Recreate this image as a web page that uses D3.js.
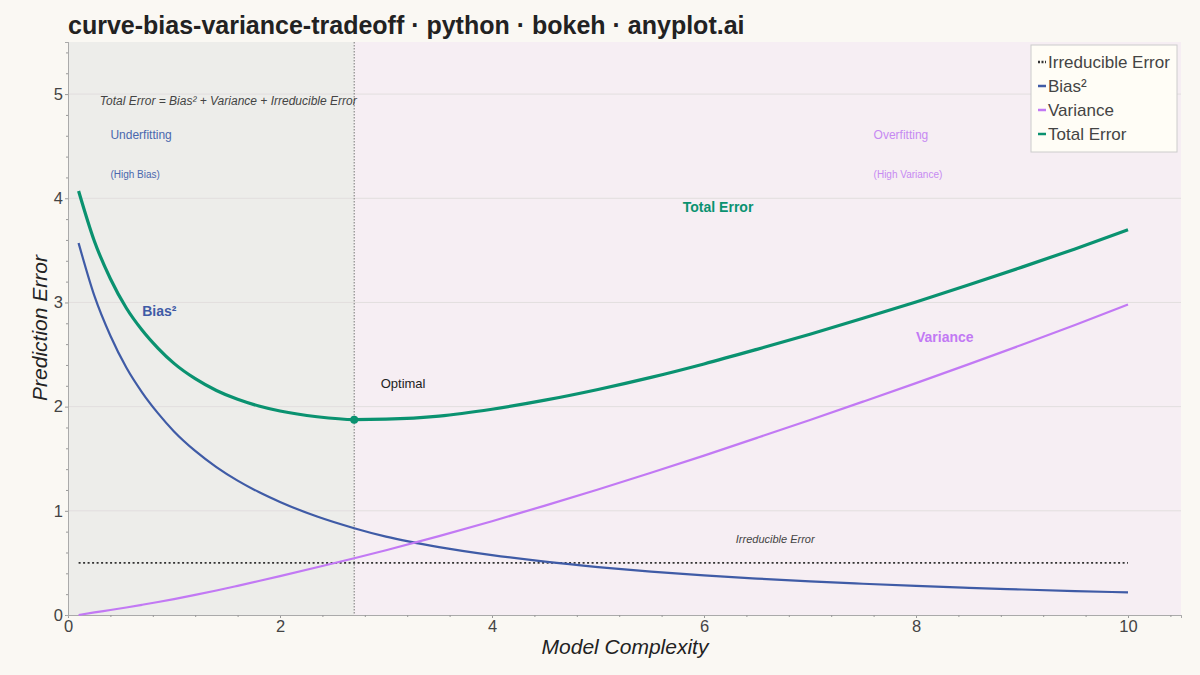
<!DOCTYPE html>
<html>
<head>
<meta charset="utf-8">
<script src="https://cdn.jsdelivr.net/npm/d3@7"></script>
<style>
  body { margin: 0; background: #FAF8F3; }
  svg { display: block; font-family: "Liberation Sans", Arial, sans-serif; }
</style>
</head>
<body>
<script>
// values
var complexity = [0.1, 0.25, 0.4, 0.55, 0.7, 0.85, 1.0, 1.2, 1.4, 1.6, 1.8, 2.0, 2.35, 2.7, 3.0, 3.5,
                  4.0, 4.5, 5.0, 5.5, 6.0, 6.5, 7.0, 7.5, 8.0, 8.5, 9.0, 9.5, 10];
var bias2 = [3.57, 3.06, 2.68, 2.375, 2.135, 1.935, 1.762, 1.575, 1.42, 1.29, 1.18, 1.085, 0.945, 0.833, 0.752, 0.652,
             0.575, 0.512, 0.46, 0.416, 0.38, 0.35, 0.323, 0.3, 0.279, 0.261, 0.245, 0.23, 0.217];
var variance = [0.0, 0.025, 0.048, 0.072, 0.098, 0.125, 0.153, 0.193, 0.235, 0.28, 0.326, 0.373, 0.458, 0.545, 0.622, 0.757,
                0.9, 1.05, 1.205, 1.365, 1.53, 1.7, 1.872, 2.048, 2.226, 2.408, 2.594, 2.784, 2.98];
var totalError = [4.07, 3.585, 3.228, 2.947, 2.733, 2.56, 2.415, 2.268, 2.155, 2.07, 2.006, 1.958, 1.903, 1.876, 1.88, 1.909,
                  1.975, 2.062, 2.165, 2.281, 2.41, 2.55, 2.695, 2.848, 3.005, 3.169, 3.339, 3.514, 3.697];
var irreducible = 0.5;
var optimalX = 2.7, optimalY = 1.875;
var xTicks = [0, 2, 4, 6, 8, 10];
var yTicks = [0, 1, 2, 3, 4, 5];

var colBias = "#3F5BA6", colVar = "#C279F4", colTotal = "#0A9270";

var margin = {top: 42, right: 19, bottom: 60, left: 68},
    width = 1200 - margin.left - margin.right,
    height = 675 - margin.top - margin.bottom;

var svg = d3.select("body").append("svg")
    .attr("width", 1200)
    .attr("height", 675);

svg.append("text")
    .attr("x", 68).attr("y", 34)
    .style("font-size", "25px").style("font-weight", "bold").style("fill", "#222")
    .text("curve-bias-variance-tradeoff · python · bokeh · anyplot.ai");

var g = svg.append("g")
    .attr("transform", "translate(" + margin.left + "," + margin.top + ")");

var x = d3.scaleLinear().domain([0, 10.5]).range([0, width]);
var y = d3.scaleLinear().domain([0, 5.5]).range([height, 0]);

// regions
g.append("rect").attr("x", 0).attr("y", 0)
    .attr("width", x(optimalX)).attr("height", height).style("fill", "#EDEDEA");
g.append("rect").attr("x", x(optimalX)).attr("y", 0)
    .attr("width", width - x(optimalX)).attr("height", height).style("fill", "#F6EEF3");

// grid
g.selectAll(".grid").data(yTicks.slice(1)).enter().append("line")
    .attr("x1", 0).attr("x2", width)
    .attr("y1", function(d) { return y(d); }).attr("y2", function(d) { return y(d); })
    .style("stroke", "#E2DEDE").style("stroke-width", 1);

// axes
var xAxis = g.append("g").attr("transform", "translate(0," + height + ")")
    .call(d3.axisBottom(x).tickValues(xTicks).tickSize(3).tickPadding(2).tickFormat(d3.format("d")));
var xMinor = g.append("g").attr("transform", "translate(0," + height + ")")
    .call(d3.axisBottom(x).tickValues(d3.range(0, 10.5, 0.4).filter(function(v) { return Math.abs(v / 2 - Math.round(v / 2)) > 0.01; })).tickSize(2).tickFormat(""));
var yAxis = g.append("g")
    .call(d3.axisLeft(y).tickValues(yTicks).tickSize(3).tickPadding(2).tickFormat(d3.format("d")));
var yMinor = g.append("g")
    .call(d3.axisLeft(y).tickValues(d3.range(0.2, 5.5, 0.2).filter(function(v) { return Math.abs(v - Math.round(v)) > 0.01; })).tickSize(2).tickFormat(""));
[xAxis, xMinor, yAxis, yMinor].forEach(function(a) {
  a.selectAll("path").style("stroke", "#AAA");
  a.selectAll("line").style("stroke", "#999");
  a.selectAll("text").style("font-size", "16.5px").style("fill", "#444")
      .style("font-family", "'Liberation Sans', Arial, sans-serif");
});

// optimal line
g.append("line")
    .attr("x1", x(optimalX)).attr("x2", x(optimalX)).attr("y1", 0).attr("y2", height)
    .style("stroke", "#777").style("stroke-width", 1).style("stroke-dasharray", "1.5,1.5");

// irreducible error
g.append("line")
    .attr("x1", x(complexity[0])).attr("x2", x(complexity[complexity.length - 1]))
    .attr("y1", y(irreducible)).attr("y2", y(irreducible))
    .style("stroke", "#333").style("stroke-width", 1.8).style("stroke-dasharray", "2,2.5");

function curve(vals) {
  return d3.line()
    .x(function(d, i) { return x(complexity[i]); })
    .y(function(d) { return y(d); })
    .curve(d3.curveMonotoneX)(vals);
}

g.append("path").attr("d", curve(bias2))
    .style("fill", "none").style("stroke", colBias).style("stroke-width", 2.2);
g.append("path").attr("d", curve(variance))
    .style("fill", "none").style("stroke", colVar).style("stroke-width", 2.2);
g.append("path").attr("d", curve(totalError))
    .style("fill", "none").style("stroke", colTotal).style("stroke-width", 3.2);

g.append("circle").attr("cx", x(optimalX)).attr("cy", y(optimalY)).attr("r", 4)
    .style("fill", colTotal);

// annotations
function note(xv, yv, txt, size, color, weight, style) {
  g.append("text").attr("x", x(xv)).attr("y", y(yv))
    .style("font-size", size + "px").style("fill", color)
    .style("font-weight", weight || "normal").style("font-style", style || "normal")
    .text(txt);
}
note(0.3, 4.9, "Total Error = Bias² + Variance + Irreducible Error", 12, "#444", null, "italic");
note(0.4, 4.57, "Underfitting", 12, "#4A68AE");
note(0.4, 4.19, "(High Bias)", 10, "#4A68AE");
note(7.6, 4.57, "Overfitting", 12, "#C68AF2");
note(7.6, 4.19, "(High Variance)", 10, "#C68AF2");
note(5.8, 3.87, "Total Error", 14, colTotal, "bold");
note(0.7, 2.87, "Bias²", 14, colBias, "bold");
note(8.0, 2.62, "Variance", 14, colVar, "bold");
note(2.95, 2.175, "Optimal", 13, "#222");
note(6.3, 0.693, "Irreducible Error", 11, "#444", null, "italic");

// axis titles
svg.append("text")
    .attr("x", 625).attr("y", 654).attr("text-anchor", "middle")
    .style("font-size", "21px").style("font-style", "italic").style("fill", "#222")
    .text("Model Complexity");
svg.append("text")
    .attr("transform", "translate(47,328) rotate(-90)").attr("text-anchor", "middle")
    .style("font-size", "21px").style("font-style", "italic").style("fill", "#222")
    .text("Prediction Error");

// legend
var legendItems = [
  {label: "Irreducible Error", color: "#333", dash: "2,1.5"},
  {label: "Bias²", color: colBias, dash: null},
  {label: "Variance", color: colVar, dash: null},
  {label: "Total Error", color: colTotal, dash: null}
];
var lg = svg.append("g").attr("transform", "translate(1031,45)");
lg.append("rect").attr("width", 146).attr("height", 107)
    .style("fill", "#FFFDF6").style("stroke", "#CCC").style("stroke-width", 1);
legendItems.forEach(function(d, i) {
  var cy = 17 + i * 24;
  lg.append("line").attr("x1", 7).attr("x2", 15).attr("y1", cy).attr("y2", cy)
    .style("stroke", d.color).style("stroke-width", 2.5)
    .style("stroke-dasharray", d.dash);
  lg.append("text").attr("x", 17).attr("y", cy + 6)
    .style("font-size", "17px").style("fill", "#444").text(d.label);
});
</script>
</body>
</html>
